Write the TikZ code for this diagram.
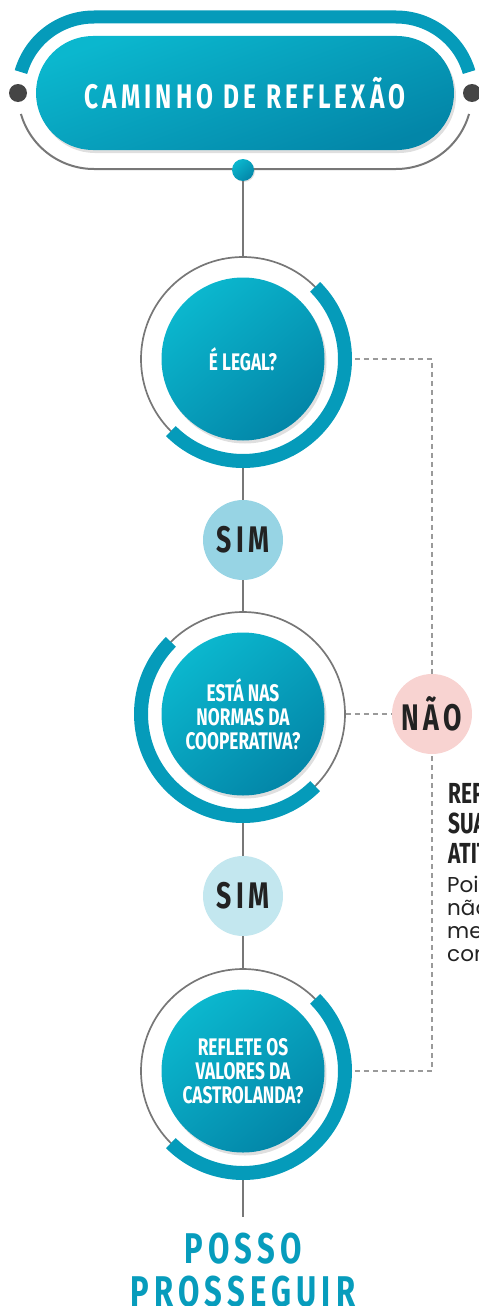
\documentclass[tikz,border=0pt]{standalone}
\usepackage{fontspec}
\setmainfont{Fira Sans}
\newfontfamily\condfont[FakeStretch=0.72]{Fira Sans}
\newfontfamily\spacedfont[FakeStretch=0.72,LetterSpace=12]{Fira Sans}
\newfontfamily\bodyfont{Poppins}
\usetikzlibrary{shadows}
\definecolor{tealL}{HTML}{0BB7CE}
\definecolor{tealD}{HTML}{0386A8}
\definecolor{bandteal}{HTML}{059BBA}
\definecolor{linegray}{HTML}{777777}
\definecolor{dashgray}{HTML}{9A9A9A}
\definecolor{dotgray}{HTML}{454545}
\definecolor{inkgray}{HTML}{222222}
\definecolor{simA}{HTML}{97D4E4}
\definecolor{simB}{HTML}{C3E7EF}
\definecolor{naoC}{HTML}{F8D3D1}
\definecolor{possoC}{HTML}{079CBC}
\begin{document}
\begin{tikzpicture}[x=1pt,y=1pt,
	pill/.style={minimum width=418pt,minimum height=114pt,rounded corners=57pt,top color=tealL,bottom color=tealD,shading angle=20,drop shadow={opacity=0.25,shadow xshift=2pt,shadow yshift=-3pt},text=white,font=\spacedfont\bfseries\fontsize{34}{34}\selectfont},
	ring/.style={circle,draw=linegray,line width=1.7pt,minimum size=204pt,inner sep=0pt},
	ball/.style={circle,minimum size=163pt,inner sep=0pt,top color=tealL,bottom color=tealD,shading angle=40,drop shadow={opacity=0.25,shadow xshift=2pt,shadow yshift=-3pt},text=white,align=center,font=\condfont\bfseries\fontsize{24}{24}\selectfont},
	knob/.style={circle,minimum size=22pt,inner sep=0pt,top color=tealL,bottom color=tealD,shading angle=40,drop shadow={opacity=0.25,shadow xshift=1pt,shadow yshift=-1pt}},
	arcband/.style={draw=bandteal,line width=14pt},
	answer/.style={circle,minimum size=80pt,inner sep=0pt,text=inkgray,font=\spacedfont\bfseries\fontsize{37}{37}\selectfont},
	joint/.style={draw=linegray,line width=2.3pt},
	dashline/.style={draw=dashgray,line width=1.2pt,dash pattern=on 5pt off 4pt},
	dot/.style={circle,fill=dotgray,minimum size=18pt,inner sep=0pt}]
	\useasboundingbox (0,0) rectangle (479,-1306);
	\clip (0,0) rectangle (479,-1306);
	\draw[draw=bandteal,line width=13pt] (94,-93) ++(164:76) arc[start angle=164,end angle=90,radius=76] -- (396,-17) arc[start angle=90,end angle=16,radius=76];
	\draw[joint,line width=2pt] (94,-93) ++(196:76) arc[start angle=196,end angle=270,radius=76] -- (396,-169) arc[start angle=270,end angle=344,radius=76];
	\node[dot] (ldot) at (18,-93) {};
	\node[dot] (rdot) at (472,-93) {};
	\node[pill] (title) at (245,-93) {CAMINHO DE REFLEXÃO};
	\node[knob] (knob) at (243,-170) {};
	\node[ring] (r1) at (243,-359) {};
	\node[ball] (q1) at (r1) {É LEGAL?};
	\node[answer,fill=simA] (sim1) at (243,-540) {SIM};
	\node[ring] (r2) at (243,-714) {};
	\node[ball] (q2) at (r2) {ESTÁ NAS\\NORMAS DA\\COOPERATIVA?};
	\node[answer,fill=simB] (sim2) at (243,-896) {SIM};
	\node[ring] (r3) at (243,-1071) {};
	\node[ball] (q3) at (r3) {REFLETE OS\\VALORES DA\\CASTROLANDA?};
	\node[answer,fill=naoC] (nao) at (432,-714) {NÃO};
	\coordinate (stem) at (243,-1217);
	\draw[joint] (knob) -- (r1);
	\draw[joint] (r1) -- (sim1);
	\draw[joint] (sim1) -- (r2);
	\draw[joint] (r2) -- (sim2);
	\draw[joint] (sim2) -- (r3);
	\draw[joint] (r3) -- (stem);
	\draw[dashline] (r1.east) -| (nao);
	\draw[dashline] (r2) -- (nao);
	\draw[dashline] (r3.east) -| (nao);
	\draw[arcband] (r1.center) ++(45:102) arc[start angle=45,end angle=-135,radius=102];
	\draw[arcband] (r2.center) ++(135:102) arc[start angle=135,end angle=315,radius=102];
	\draw[arcband] (r3.center) ++(45:102) arc[start angle=45,end angle=-135,radius=102];
	\node[anchor=north west,inner sep=0pt,align=left,text=inkgray,font=\condfont\bfseries\fontsize{29}{30}\selectfont] (rethink) at (448,-783) {REPENSE\\SUA\\ATITUDE};
	\node[anchor=north west,inner sep=0pt,align=left,text=inkgray,font=\bodyfont\fontsize{21.5}{23}\selectfont] (why) at (447,-876) {Pois ela\\não está\\mesmo em\\conformidade};
	\node[anchor=north,inner sep=0pt,align=center,text=possoC,font=\spacedfont\bfseries\fontsize{43}{43}\selectfont] (posso) at (243,-1233) {POSSO\\PROSSEGUIR};
\end{tikzpicture}
\end{document}
